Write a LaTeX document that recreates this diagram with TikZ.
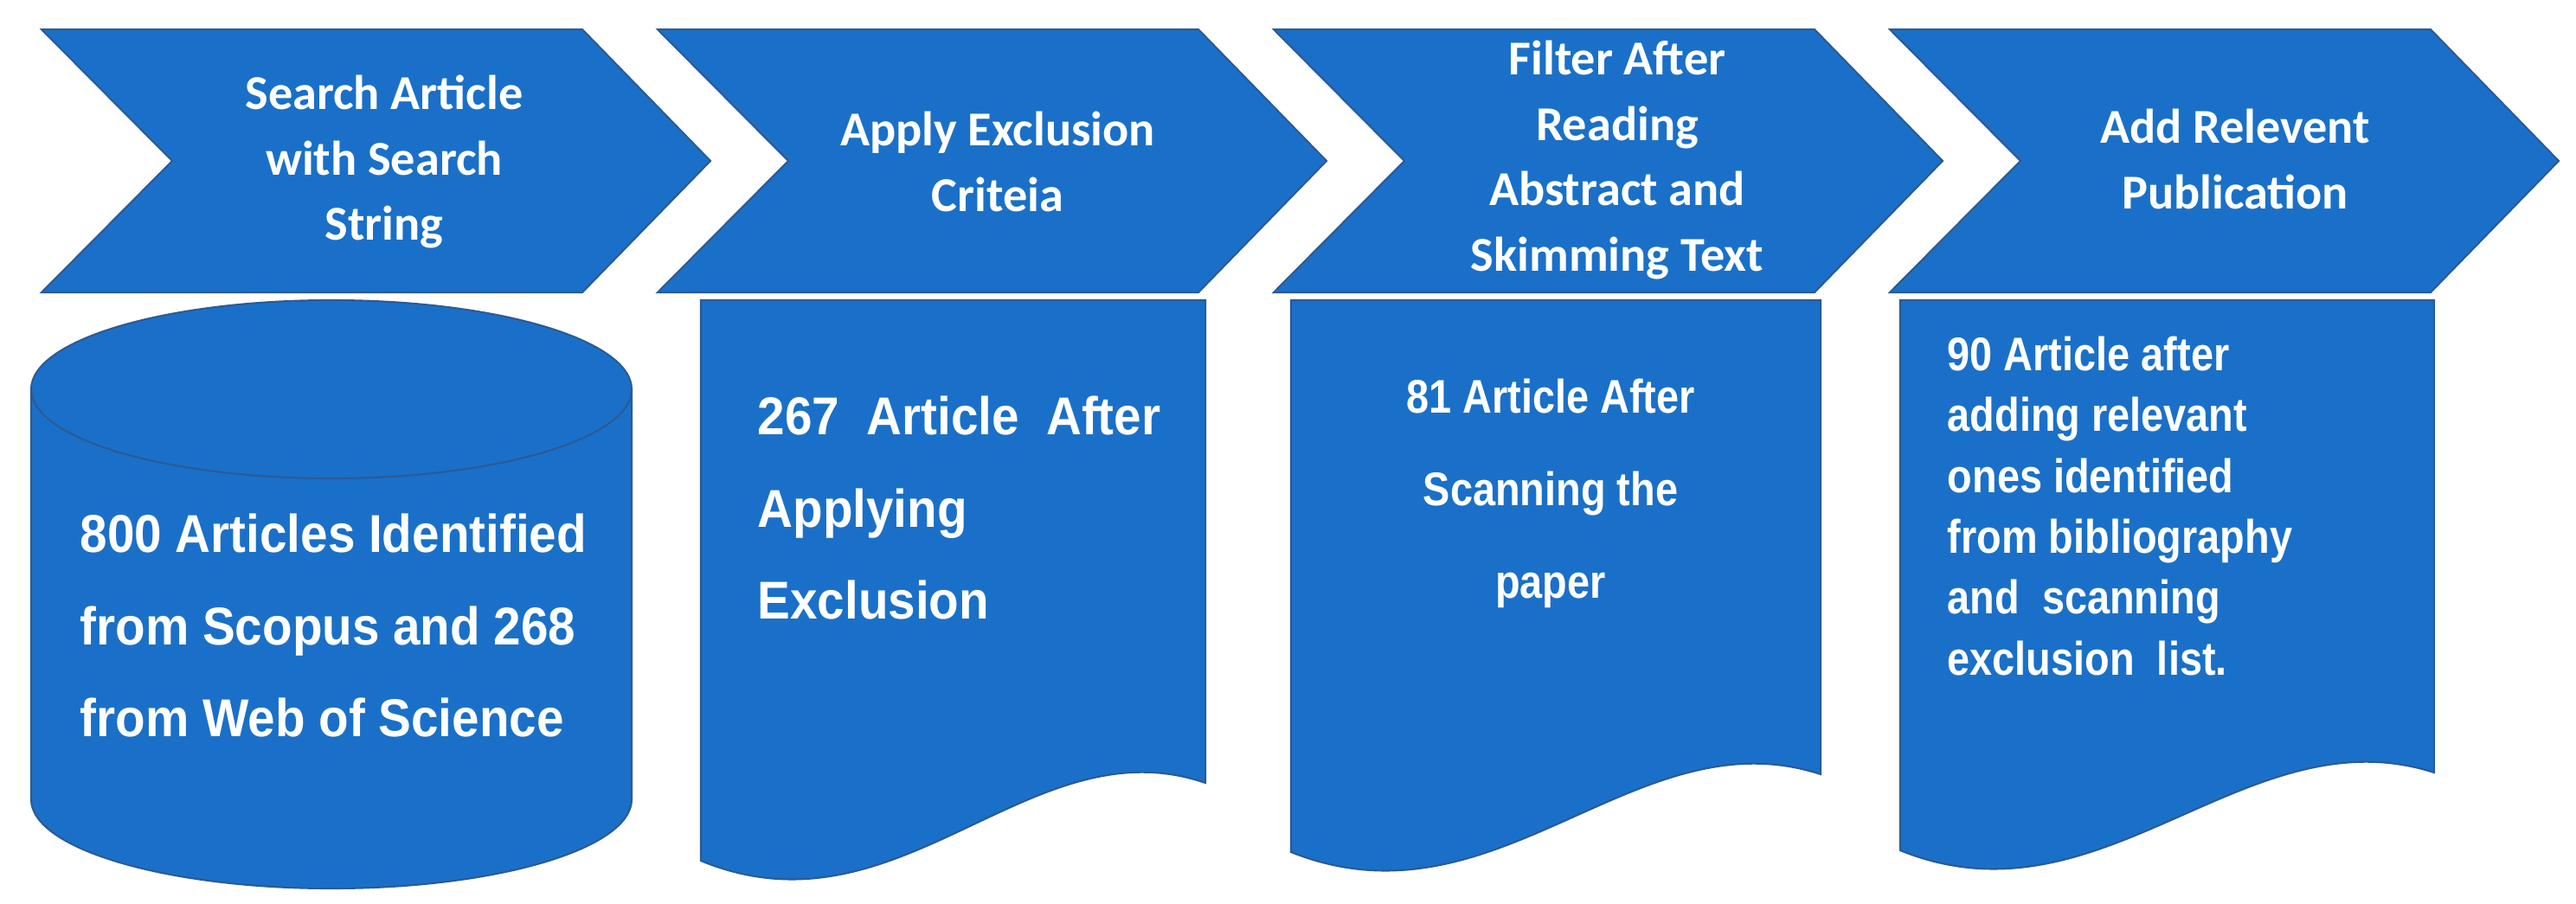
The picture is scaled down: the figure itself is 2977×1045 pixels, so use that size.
\documentclass[tikz,border=0pt]{standalone}
\usepackage{fontspec}
\newfontfamily\headfont{Carlito}
\newfontfamily\bodyfont{Liberation Sans}[FakeStretch=0.86]
\newfontfamily\bodyfontwide{Liberation Sans}[FakeStretch=0.92]
\definecolor{fillblue}{HTML}{1A70C8}
\definecolor{edgeblue}{HTML}{2B5A96}
\begin{document}
\begin{tikzpicture}[x=0.01cm,y=-0.01cm,
  shapefill/.style={fill=fillblue,draw=edgeblue,line width=0.6pt},
  head/.style={text=white,align=center,inner sep=0,font=\headfont\bfseries\fontsize{16}{21.5}\selectfont},
  body/.style={text=white,inner sep=0,font=\bodyfont\bfseries\fontsize{15.5}{30.4}\selectfont},
  bodywide/.style={text=white,inner sep=0,font=\bodyfontwide\bfseries\fontsize{17.5}{30.4}\selectfont},
  bodytight/.style={text=white,inner sep=0,font=\bodyfont\bfseries\fontsize{15.5}{20}\selectfont}]
\useasboundingbox (0,0) rectangle (2977,1045);
% chevrons
\foreach \i in {0,1,2,3}{
  \pgfmathsetmacro{\o}{712*\i}
  \path[shapefill] (48+\o,34) -- (673+\o,34) -- (821+\o,186) -- (673+\o,338) -- (48+\o,338) -- (199+\o,186) -- cycle;
}
% cylinder
\path[shapefill] (36,450) -- (36,924) arc[start angle=180,end angle=0,x radius=347,y radius=103] -- (730,450) arc[start angle=0,end angle=-180,x radius=347,y radius=103] -- cycle;
\draw[edgeblue,line width=0.6pt] (36,450) arc[start angle=180,end angle=0,x radius=347,y radius=103];
% documents
\path[shapefill] (810,347) -- (1393,347) -- (1393,905) .. controls (1190,835) and (1040,1090) .. (810,995) -- cycle;
\path[shapefill] (1492,347) -- (2104,347) -- (2104,895) .. controls (1890,825) and (1730,1080) .. (1492,985) -- cycle;
\path[shapefill] (2196,347) -- (2813,347) -- (2813,893) .. controls (2595,823) and (2430,1078) .. (2196,983) -- cycle;
% heading texts
\node[head] (h1) at (444,187) {Search Article\\with Search\\String};
\node[head] (h2) at (1153,187) {Apply Exclusion\\Criteia};
\node[head] (h3) at (1869,185) {Filter After\\Reading\\Abstract and\\Skimming Text};
\node[head] (h4) at (2583,184) {Add Relevent\\Publication};
% body texts
\node[bodywide,align=left,anchor=west] (b1) at (92,723) {800 Articles Identified\\from Scopus and 268\\from Web of Science};
\node[bodywide,align=left,anchor=west] (b2) at (875,587) {267\ \ Article\ \ After\\Applying\\Exclusion};
\node[body,align=center] (b3) at (1792,570) {81 Article After\\Scanning the\\paper};
\node[bodytight,align=left,anchor=west] (b4) at (2250,585) {90 Article after\\adding relevant\\ones identified\\from bibliography\\and\ \ scanning\\exclusion\ \ list.};
\end{tikzpicture}
\end{document}
